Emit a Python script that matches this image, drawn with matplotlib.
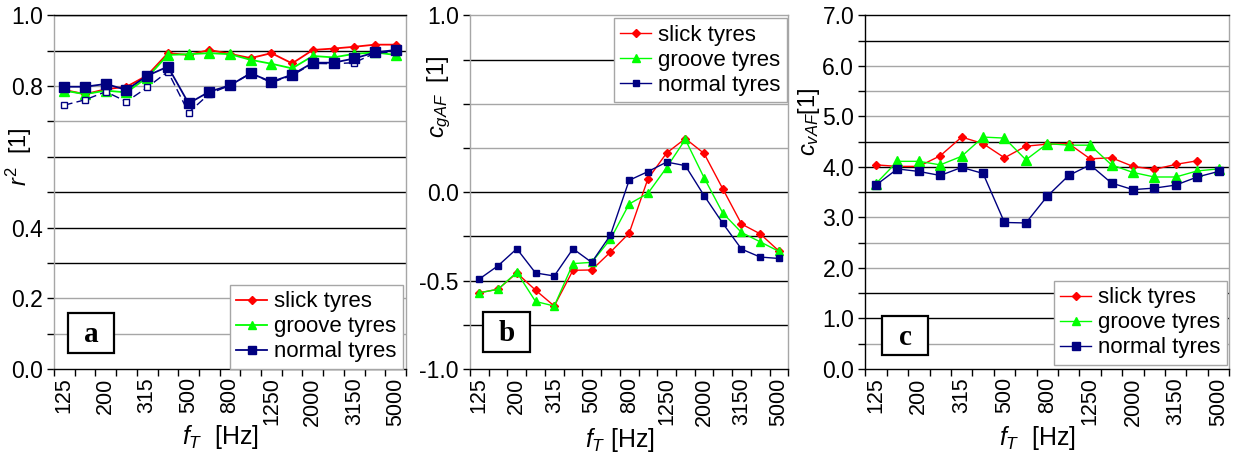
import matplotlib
matplotlib.use("Agg")
import matplotlib.pyplot as plt
from matplotlib.patches import Rectangle
import numpy as np

plt.rcParams['font.family'] = ['Liberation Sans', 'DejaVu Sans']
plt.rcParams['mathtext.fontset'] = 'custom'
plt.rcParams['mathtext.rm'] = 'Liberation Sans'
plt.rcParams['mathtext.it'] = 'Liberation Sans:italic'

# 1/3 octave band centre frequencies
freqs = [125, 160, 200, 250, 315, 400, 500, 630, 800, 1000, 1250, 1600, 2000, 2500, 3150, 4000, 5000]

# a) r^2
r2_slick = [0.789, 0.777, 0.791, 0.798, 0.830, 0.893, 0.888, 0.902, 0.891, 0.879, 0.893, 0.864, 0.902, 0.906, 0.911, 0.917, 0.917]
r2_groove = [0.787, 0.777, 0.787, 0.782, 0.824, 0.888, 0.890, 0.893, 0.890, 0.874, 0.863, 0.850, 0.885, 0.881, 0.891, 0.895, 0.888]
r2_normal = [0.798, 0.798, 0.806, 0.789, 0.829, 0.855, 0.751, 0.784, 0.802, 0.836, 0.812, 0.832, 0.866, 0.866, 0.878, 0.895, 0.902]
r2_normal_2 = [0.746, 0.761, 0.784, 0.756, 0.796, 0.841, 0.725, 0.778, 0.802, 0.836, 0.810, 0.830, 0.864, 0.863, 0.866, 0.893, 0.897]

# b) c_gAF
cg_slick = [-0.569, -0.549, -0.457, -0.554, -0.644, -0.442, -0.440, -0.339, -0.232, 0.075, 0.221, 0.303, 0.219, 0.019, -0.180, -0.236, -0.333]
cg_groove = [-0.569, -0.549, -0.453, -0.618, -0.644, -0.404, -0.397, -0.266, -0.067, -0.007, 0.139, 0.298, 0.082, -0.118, -0.228, -0.281, -0.335]
cg_normal = [-0.491, -0.416, -0.320, -0.457, -0.474, -0.320, -0.397, -0.243, 0.067, 0.116, 0.170, 0.150, -0.019, -0.176, -0.322, -0.367, -0.375]

# c) c_vAF (slick has no value at 5000 Hz)
cv_slick = [4.04, 4.01, 4.01, 4.22, 4.59, 4.46, 4.18, 4.41, 4.45, 4.46, 4.16, 4.18, 4.01, 3.95, 4.05, 4.12, np.nan]
cv_groove = [3.67, 4.11, 4.11, 4.04, 4.21, 4.59, 4.57, 4.14, 4.46, 4.43, 4.43, 4.04, 3.89, 3.80, 3.80, 3.92, 3.96]
cv_normal = [3.64, 3.96, 3.91, 3.83, 3.99, 3.87, 2.90, 2.89, 3.42, 3.83, 4.04, 3.68, 3.55, 3.58, 3.64, 3.80, 3.91]

series_names = ["slick tyres", "groove tyres", "normal tyres"]
RED, GREEN, NAVY = "#ff0000", "#00ff00", "#000080"
GRAY = "#a6a6a6"

W, H = 1239, 454
fig = plt.figure(figsize=(W / 100, H / 100), dpi=100)


def px_axes(left, right, top=15.3, bottom=369):
    return fig.add_axes([left / W, 1 - bottom / H, (right - left) / W, (bottom - top) / H])


def setup(ax, ylim, major, minor, grid_vals, grid_black, hide_label=None, spines=None):
    x = np.arange(len(freqs))
    ax.set_xlim(-0.5, len(freqs) - 0.5)
    ax.set_ylim(*ylim)
    for v, blk in zip(grid_vals, grid_black):
        ax.axhline(v, color="black" if blk else GRAY, lw=1.0, zorder=0.5)
    ax.set_xticks(x[::2])
    ax.set_xticklabels([str(f) for f in freqs[::2]], rotation=90, fontsize=15.5)
    ax.set_xticks(np.arange(len(freqs) + 1) - 0.5, minor=True)
    ax.tick_params(axis='x', which='major', length=0, pad=6)
    ax.tick_params(axis='x', which='minor', length=5, width=1, direction='out')
    ax.set_yticks(major)
    labels = [f"{v:.1f}" for v in major]
    if hide_label is not None:
        labels = ["" if abs(v - hide_label) < 1e-9 else s for v, s in zip(major, labels)]
    ax.set_yticklabels(labels, fontsize=16.5)
    ax.set_yticks(minor, minor=True)
    ax.tick_params(axis='y', which='both', length=5, width=1, direction='out', pad=3)
    for name, col in spines.items():
        ax.spines[name].set_color(col)
        ax.spines[name].set_linewidth(1.0)


def box_label(ax, letter, x0, y0, w, h):
    ax.add_patch(Rectangle((x0, y0), w, h, transform=ax.transAxes, facecolor="white",
                           edgecolor="black", lw=1.6, zorder=5))
    ax.text(x0 + w / 2, y0 + h / 2 - 0.005, letter, transform=ax.transAxes, ha="center", va="center",
            fontsize=21, fontweight="bold", family="Liberation Serif", zorder=6)


def draw(ax, slick, groove, normal, ms_s, ms_t, ms_q, lw):
    x = np.arange(len(freqs))
    ax.plot(x, slick, color=RED, marker="D", ms=ms_s, lw=lw, label=series_names[0], zorder=3)
    ax.plot(x, groove, color=GREEN, marker="^", ms=ms_t, lw=lw, label=series_names[1], zorder=3)
    ax.plot(x, normal, color=NAVY, marker="s", ms=ms_q, lw=lw, label=series_names[2], zorder=4)


def legend(ax, loc, anchor):
    leg = ax.legend(loc=loc, bbox_to_anchor=anchor, borderaxespad=0, fontsize=16, fancybox=False,
                    edgecolor=GRAY, framealpha=1, handlelength=1.4, handletextpad=0.3,
                    labelspacing=0.18, borderpad=0.3, markerscale=0.9)
    leg.get_frame().set_linewidth(1.0)
    leg.set_zorder(10)


# ---- panel a
ax1 = px_axes(54, 406)
setup(ax1, (0, 1.0), [0, 0.2, 0.4, 0.6, 0.8, 1.0], np.arange(0, 1.01, 0.1),
      [0.1, 0.2, 0.3, 0.4, 0.5, 0.6, 0.7, 0.8, 0.9, 1.0],
      [False, False, True, True, True, True, False, False, True, True],
      hide_label=0.6, spines={"left": GRAY, "right": GRAY, "top": "black", "bottom": "black"})
draw(ax1, r2_slick, r2_groove, r2_normal, 4.5, 7, 6.5, 1.3)
ax1.plot(np.arange(len(freqs)), r2_normal_2, color=NAVY, ls=(0, (6, 3)), lw=1.0, marker="s", ms=5,
         mfc="white", mec=NAVY, label="_nolegend_", zorder=3)
legend(ax1, "lower right", (0.992, 0.0))
box_label(ax1, "a", 0.040, 0.045, 0.131, 0.113)
ax1.set_ylabel(r"$r^2$  [1]", fontsize=17)
ax1.yaxis.set_label_coords(-0.057, 0.6)
fig.text(220 / W, 1 - 437 / H, r"$f_T$  [Hz]", ha="center", va="center", fontsize=18)

# ---- panel b
ax2 = px_axes(470, 788.3)
setup(ax2, (-1.0, 1.0), [-1.0, -0.5, 0.0, 0.5, 1.0], np.arange(-1.0, 1.01, 0.25),
      [-0.75, -0.5, -0.25, 0.0, 0.25, 0.5, 0.75],
      [True, True, True, True, False, False, True],
      hide_label=0.5, spines={"left": GRAY, "right": GRAY, "top": GRAY, "bottom": "black"})
draw(ax2, cg_slick, cg_groove, cg_normal, 4, 6, 5, 1.0)
legend(ax2, "upper right", (0.996, 0.992))
box_label(ax2, "b", 0.041, 0.048, 0.148, 0.114)
ax2.set_ylabel(r"$c_{gAF}$  [1]", fontsize=17)
ax2.yaxis.set_label_coords(-0.053, 0.77)
fig.text(620 / W, 1 - 440 / H, r"$f_T$ [Hz]", ha="center", va="center", fontsize=18)

# ---- panel c
ax3 = px_axes(865.3, 1229.3)
setup(ax3, (0, 7.0), np.arange(0, 7.01, 1.0), np.arange(0, 7.01, 0.5),
      [0.5, 1.0, 1.5, 2.0, 2.5, 3.0, 3.5, 4.0, 4.5, 5.0, 5.5, 6.0, 6.5],
      [False, True, True, False, False, False, True, True, True, False, False, False, True],
      spines={"left": "black", "right": GRAY, "top": "black", "bottom": "black"})
draw(ax3, cv_slick, cv_groove, cv_normal, 4.5, 6.5, 6, 1.0)
legend(ax3, "lower right", (0.994, 0.011))
box_label(ax3, "c", 0.046, 0.040, 0.126, 0.110)
ax3.set_ylabel(r"$c_{vAF}$[1]", fontsize=17)
ax3.yaxis.set_label_coords(-0.118, 0.70)
fig.text(1037 / W, 1 - 438 / H, r"$f_T$  [Hz]", ha="center", va="center", fontsize=18)

fig.savefig("out.png", dpi=100)
